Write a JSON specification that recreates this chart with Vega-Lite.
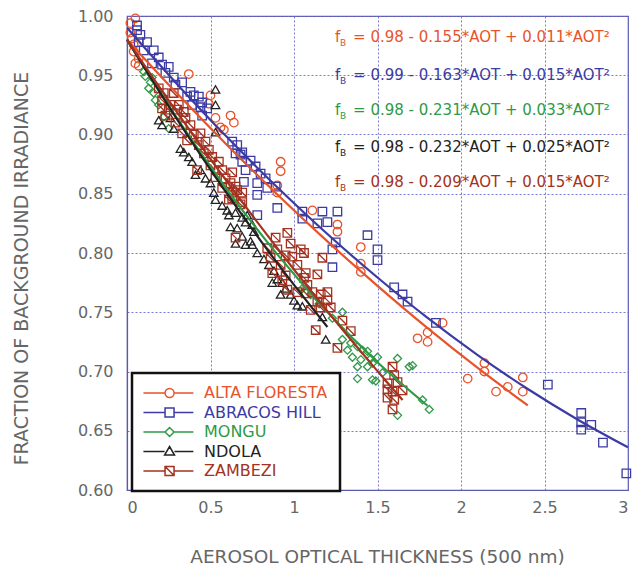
{
"$schema": "https://vega.github.io/schema/vega-lite/v6.json",
"autosize": {"type": "none"},
"width": 501,
"height": 474,
"padding": {"left": 127, "top": 16, "right": 4, "bottom": 88},
"background": "white",
"datasets": {
"pts": [
{"site":"ALTA FLORESTA","aot":0.02,"frac":0.994},{"site":"ALTA FLORESTA","aot":0.05,"frac":0.998},{"site":"ALTA FLORESTA","aot":0.02,"frac":0.986},{"site":"ALTA FLORESTA","aot":0.03,"frac":0.981},{"site":"ALTA FLORESTA","aot":0.04,"frac":0.976},{"site":"ALTA FLORESTA","aot":0.04,"frac":0.970},{"site":"ALTA FLORESTA","aot":0.07,"frac":0.964},{"site":"ALTA FLORESTA","aot":0.05,"frac":0.960},{"site":"ALTA FLORESTA","aot":0.07,"frac":0.958},{"site":"ALTA FLORESTA","aot":0.37,"frac":0.951},{"site":"ALTA FLORESTA","aot":0.50,"frac":0.933},{"site":"ALTA FLORESTA","aot":0.49,"frac":0.926},{"site":"ALTA FLORESTA","aot":0.53,"frac":0.914},{"site":"ALTA FLORESTA","aot":0.62,"frac":0.916},{"site":"ALTA FLORESTA","aot":0.64,"frac":0.910},{"site":"ALTA FLORESTA","aot":0.58,"frac":0.904},{"site":"ALTA FLORESTA","aot":0.56,"frac":0.906},{"site":"ALTA FLORESTA","aot":0.92,"frac":0.877},{"site":"ALTA FLORESTA","aot":0.92,"frac":0.869},{"site":"ALTA FLORESTA","aot":0.90,"frac":0.857},{"site":"ALTA FLORESTA","aot":0.90,"frac":0.851},{"site":"ALTA FLORESTA","aot":1.11,"frac":0.836},{"site":"ALTA FLORESTA","aot":1.26,"frac":0.824},{"site":"ALTA FLORESTA","aot":1.26,"frac":0.818},{"site":"ALTA FLORESTA","aot":1.40,"frac":0.805},{"site":"ALTA FLORESTA","aot":1.40,"frac":0.791},{"site":"ALTA FLORESTA","aot":1.40,"frac":0.784},{"site":"ALTA FLORESTA","aot":1.74,"frac":0.728},{"site":"ALTA FLORESTA","aot":1.80,"frac":0.733},{"site":"ALTA FLORESTA","aot":1.80,"frac":0.725},{"site":"ALTA FLORESTA","aot":1.89,"frac":0.741},{"site":"ALTA FLORESTA","aot":2.04,"frac":0.694},{"site":"ALTA FLORESTA","aot":2.14,"frac":0.707},{"site":"ALTA FLORESTA","aot":2.14,"frac":0.700},{"site":"ALTA FLORESTA","aot":2.21,"frac":0.683},{"site":"ALTA FLORESTA","aot":2.28,"frac":0.687},{"site":"ALTA FLORESTA","aot":2.37,"frac":0.695},{"site":"ALTA FLORESTA","aot":2.37,"frac":0.683},

{"site":"ABRACOS HILL","aot":0.06,"frac":0.992},{"site":"ABRACOS HILL","aot":0.06,"frac":0.988},{"site":"ABRACOS HILL","aot":0.08,"frac":0.984},{"site":"ABRACOS HILL","aot":0.12,"frac":0.978},{"site":"ABRACOS HILL","aot":0.07,"frac":0.978},{"site":"ABRACOS HILL","aot":0.10,"frac":0.971},{"site":"ABRACOS HILL","aot":0.16,"frac":0.971},{"site":"ABRACOS HILL","aot":0.19,"frac":0.965},{"site":"ABRACOS HILL","aot":0.15,"frac":0.960},{"site":"ABRACOS HILL","aot":0.21,"frac":0.959},{"site":"ABRACOS HILL","aot":0.25,"frac":0.957},{"site":"ABRACOS HILL","aot":0.23,"frac":0.952},{"site":"ABRACOS HILL","aot":0.28,"frac":0.948},{"site":"ABRACOS HILL","aot":0.33,"frac":0.944},{"site":"ABRACOS HILL","aot":0.29,"frac":0.942},{"site":"ABRACOS HILL","aot":0.38,"frac":0.936},{"site":"ABRACOS HILL","aot":0.36,"frac":0.932},{"site":"ABRACOS HILL","aot":0.43,"frac":0.932},{"site":"ABRACOS HILL","aot":0.39,"frac":0.925},{"site":"ABRACOS HILL","aot":0.45,"frac":0.927},{"site":"ABRACOS HILL","aot":0.40,"frac":0.933},{"site":"ABRACOS HILL","aot":0.44,"frac":0.923},{"site":"ABRACOS HILL","aot":0.45,"frac":0.916},{"site":"ABRACOS HILL","aot":0.48,"frac":0.922},{"site":"ABRACOS HILL","aot":0.63,"frac":0.894},{"site":"ABRACOS HILL","aot":0.66,"frac":0.891},{"site":"ABRACOS HILL","aot":0.65,"frac":0.884},{"site":"ABRACOS HILL","aot":0.69,"frac":0.885},{"site":"ABRACOS HILL","aot":0.69,"frac":0.877},{"site":"ABRACOS HILL","aot":0.74,"frac":0.878},{"site":"ABRACOS HILL","aot":0.77,"frac":0.873},{"site":"ABRACOS HILL","aot":0.80,"frac":0.867},{"site":"ABRACOS HILL","aot":0.83,"frac":0.863},{"site":"ABRACOS HILL","aot":0.78,"frac":0.859},{"site":"ABRACOS HILL","aot":0.84,"frac":0.855},{"site":"ABRACOS HILL","aot":0.89,"frac":0.856},{"site":"ABRACOS HILL","aot":0.78,"frac":0.849},{"site":"ABRACOS HILL","aot":0.78,"frac":0.832},{"site":"ABRACOS HILL","aot":0.68,"frac":0.883},{"site":"ABRACOS HILL","aot":0.71,"frac":0.870},{"site":"ABRACOS HILL","aot":0.70,"frac":0.860},{"site":"ABRACOS HILL","aot":0.90,"frac":0.838},{"site":"ABRACOS HILL","aot":1.05,"frac":0.835},{"site":"ABRACOS HILL","aot":1.05,"frac":0.829},{"site":"ABRACOS HILL","aot":1.17,"frac":0.835},{"site":"ABRACOS HILL","aot":1.26,"frac":0.835},{"site":"ABRACOS HILL","aot":1.14,"frac":0.825},{"site":"ABRACOS HILL","aot":1.20,"frac":0.826},{"site":"ABRACOS HILL","aot":1.25,"frac":0.809},{"site":"ABRACOS HILL","aot":1.23,"frac":0.803},{"site":"ABRACOS HILL","aot":1.23,"frac":0.788},{"site":"ABRACOS HILL","aot":1.44,"frac":0.815},{"site":"ABRACOS HILL","aot":1.50,"frac":0.803},{"site":"ABRACOS HILL","aot":1.50,"frac":0.794},{"site":"ABRACOS HILL","aot":1.60,"frac":0.771},{"site":"ABRACOS HILL","aot":1.65,"frac":0.765},{"site":"ABRACOS HILL","aot":1.68,"frac":0.759},{"site":"ABRACOS HILL","aot":1.85,"frac":0.741},{"site":"ABRACOS HILL","aot":2.52,"frac":0.689},{"site":"ABRACOS HILL","aot":2.72,"frac":0.665},{"site":"ABRACOS HILL","aot":2.72,"frac":0.657},{"site":"ABRACOS HILL","aot":2.72,"frac":0.651},{"site":"ABRACOS HILL","aot":2.78,"frac":0.655},{"site":"ABRACOS HILL","aot":2.85,"frac":0.640},{"site":"ABRACOS HILL","aot":2.99,"frac":0.614},

{"site":"MONGU","aot":0.10,"frac":0.953},{"site":"MONGU","aot":0.11,"frac":0.949},{"site":"MONGU","aot":0.14,"frac":0.944},{"site":"MONGU","aot":0.15,"frac":0.948},{"site":"MONGU","aot":0.13,"frac":0.939},{"site":"MONGU","aot":0.16,"frac":0.935},{"site":"MONGU","aot":0.17,"frac":0.929},{"site":"MONGU","aot":0.19,"frac":0.925},{"site":"MONGU","aot":0.22,"frac":0.915},{"site":"MONGU","aot":0.25,"frac":0.905},{"site":"MONGU","aot":1.05,"frac":0.770},{"site":"MONGU","aot":1.10,"frac":0.765},{"site":"MONGU","aot":1.15,"frac":0.757},{"site":"MONGU","aot":1.29,"frac":0.750},{"site":"MONGU","aot":1.23,"frac":0.745},{"site":"MONGU","aot":1.29,"frac":0.727},{"site":"MONGU","aot":1.34,"frac":0.724},{"site":"MONGU","aot":1.32,"frac":0.718},{"site":"MONGU","aot":1.38,"frac":0.721},{"site":"MONGU","aot":1.41,"frac":0.718},{"site":"MONGU","aot":1.44,"frac":0.717},{"site":"MONGU","aot":1.35,"frac":0.712},{"site":"MONGU","aot":1.40,"frac":0.710},{"site":"MONGU","aot":1.46,"frac":0.711},{"site":"MONGU","aot":1.50,"frac":0.712},{"site":"MONGU","aot":1.44,"frac":0.704},{"site":"MONGU","aot":1.38,"frac":0.704},{"site":"MONGU","aot":1.62,"frac":0.711},{"site":"MONGU","aot":1.71,"frac":0.705},{"site":"MONGU","aot":1.38,"frac":0.694},{"site":"MONGU","aot":1.47,"frac":0.693},{"site":"MONGU","aot":1.53,"frac":0.699},{"site":"MONGU","aot":1.49,"frac":0.692},{"site":"MONGU","aot":1.69,"frac":0.704},{"site":"MONGU","aot":1.77,"frac":0.676},{"site":"MONGU","aot":1.81,"frac":0.668},{"site":"MONGU","aot":1.62,"frac":0.663},{"site":"MONGU","aot":1.47,"frac":0.707},

{"site":"NDOLA","aot":0.53,"frac":0.938},{"site":"NDOLA","aot":0.53,"frac":0.925},{"site":"NDOLA","aot":0.53,"frac":0.902},{"site":"NDOLA","aot":0.32,"frac":0.888},{"site":"NDOLA","aot":0.34,"frac":0.885},{"site":"NDOLA","aot":0.37,"frac":0.881},{"site":"NDOLA","aot":0.39,"frac":0.877},{"site":"NDOLA","aot":0.44,"frac":0.870},{"site":"NDOLA","aot":0.41,"frac":0.866},{"site":"NDOLA","aot":0.47,"frac":0.863},{"site":"NDOLA","aot":0.50,"frac":0.859},{"site":"NDOLA","aot":0.52,"frac":0.851},{"site":"NDOLA","aot":0.53,"frac":0.845},{"site":"NDOLA","aot":0.57,"frac":0.840},{"site":"NDOLA","aot":0.60,"frac":0.836},{"site":"NDOLA","aot":0.61,"frac":0.832},{"site":"NDOLA","aot":0.21,"frac":0.908},{"site":"NDOLA","aot":0.26,"frac":0.914},{"site":"NDOLA","aot":0.28,"frac":0.905},{"site":"NDOLA","aot":0.19,"frac":0.912},{"site":"NDOLA","aot":0.65,"frac":0.834},{"site":"NDOLA","aot":0.69,"frac":0.830},{"site":"NDOLA","aot":0.72,"frac":0.832},{"site":"NDOLA","aot":0.71,"frac":0.826},{"site":"NDOLA","aot":0.66,"frac":0.821},{"site":"NDOLA","aot":0.75,"frac":0.824},{"site":"NDOLA","aot":0.76,"frac":0.818},{"site":"NDOLA","aot":0.69,"frac":0.814},{"site":"NDOLA","aot":0.65,"frac":0.808},{"site":"NDOLA","aot":0.71,"frac":0.807},{"site":"NDOLA","aot":0.75,"frac":0.807},{"site":"NDOLA","aot":0.62,"frac":0.822},{"site":"NDOLA","aot":0.74,"frac":0.810},{"site":"NDOLA","aot":0.78,"frac":0.800},{"site":"NDOLA","aot":0.82,"frac":0.795},{"site":"NDOLA","aot":0.85,"frac":0.790},{"site":"NDOLA","aot":0.88,"frac":0.785},{"site":"NDOLA","aot":0.90,"frac":0.778},{"site":"NDOLA","aot":0.93,"frac":0.775},{"site":"NDOLA","aot":0.95,"frac":0.770},{"site":"NDOLA","aot":0.98,"frac":0.765},{"site":"NDOLA","aot":1.00,"frac":0.760},{"site":"NDOLA","aot":1.05,"frac":0.755},{"site":"NDOLA","aot":0.87,"frac":0.775},{"site":"NDOLA","aot":0.92,"frac":0.765},{"site":"NDOLA","aot":1.02,"frac":0.756},{"site":"NDOLA","aot":1.17,"frac":0.746},{"site":"NDOLA","aot":1.19,"frac":0.727},

{"site":"ZAMBEZI","aot":0.19,"frac":0.939},{"site":"ZAMBEZI","aot":0.21,"frac":0.929},{"site":"ZAMBEZI","aot":0.28,"frac":0.935},{"site":"ZAMBEZI","aot":0.25,"frac":0.921},{"site":"ZAMBEZI","aot":0.31,"frac":0.925},{"site":"ZAMBEZI","aot":0.34,"frac":0.919},{"site":"ZAMBEZI","aot":0.22,"frac":0.935},{"site":"ZAMBEZI","aot":0.26,"frac":0.925},{"site":"ZAMBEZI","aot":0.21,"frac":0.922},{"site":"ZAMBEZI","aot":0.30,"frac":0.921},{"site":"ZAMBEZI","aot":0.23,"frac":0.916},{"site":"ZAMBEZI","aot":0.35,"frac":0.914},{"site":"ZAMBEZI","aot":0.29,"frac":0.910},{"site":"ZAMBEZI","aot":0.38,"frac":0.908},{"site":"ZAMBEZI","aot":0.33,"frac":0.901},{"site":"ZAMBEZI","aot":0.40,"frac":0.900},{"site":"ZAMBEZI","aot":0.36,"frac":0.895},{"site":"ZAMBEZI","aot":0.44,"frac":0.901},{"site":"ZAMBEZI","aot":0.47,"frac":0.894},{"site":"ZAMBEZI","aot":0.43,"frac":0.891},{"site":"ZAMBEZI","aot":0.49,"frac":0.887},{"site":"ZAMBEZI","aot":0.46,"frac":0.884},{"site":"ZAMBEZI","aot":0.51,"frac":0.881},{"site":"ZAMBEZI","aot":0.55,"frac":0.877},{"site":"ZAMBEZI","aot":0.50,"frac":0.874},{"site":"ZAMBEZI","aot":0.57,"frac":0.870},{"site":"ZAMBEZI","aot":0.53,"frac":0.864},{"site":"ZAMBEZI","aot":0.59,"frac":0.863},{"site":"ZAMBEZI","aot":0.62,"frac":0.859},{"site":"ZAMBEZI","aot":0.57,"frac":0.855},{"site":"ZAMBEZI","aot":0.63,"frac":0.851},{"site":"ZAMBEZI","aot":0.66,"frac":0.853},{"site":"ZAMBEZI","aot":0.61,"frac":0.845},{"site":"ZAMBEZI","aot":0.68,"frac":0.841},{"site":"ZAMBEZI","aot":0.42,"frac":0.870},{"site":"ZAMBEZI","aot":0.63,"frac":0.868},{"site":"ZAMBEZI","aot":0.69,"frac":0.851},{"site":"ZAMBEZI","aot":0.65,"frac":0.856},{"site":"ZAMBEZI","aot":0.63,"frac":0.846},{"site":"ZAMBEZI","aot":0.69,"frac":0.843},{"site":"ZAMBEZI","aot":0.65,"frac":0.813},{"site":"ZAMBEZI","aot":0.89,"frac":0.813},{"site":"ZAMBEZI","aot":0.96,"frac":0.817},{"site":"ZAMBEZI","aot":0.98,"frac":0.808},{"site":"ZAMBEZI","aot":0.84,"frac":0.804},{"site":"ZAMBEZI","aot":0.90,"frac":0.803},{"site":"ZAMBEZI","aot":0.95,"frac":0.798},{"site":"ZAMBEZI","aot":0.99,"frac":0.797},{"site":"ZAMBEZI","aot":0.86,"frac":0.796},{"site":"ZAMBEZI","aot":0.92,"frac":0.790},{"site":"ZAMBEZI","aot":1.02,"frac":0.790},{"site":"ZAMBEZI","aot":0.87,"frac":0.783},{"site":"ZAMBEZI","aot":0.95,"frac":0.781},{"site":"ZAMBEZI","aot":1.07,"frac":0.783},{"site":"ZAMBEZI","aot":1.04,"frac":0.803},{"site":"ZAMBEZI","aot":1.17,"frac":0.796},{"site":"ZAMBEZI","aot":1.06,"frac":0.800},{"site":"ZAMBEZI","aot":0.93,"frac":0.777},{"site":"ZAMBEZI","aot":1.06,"frac":0.779},{"site":"ZAMBEZI","aot":1.08,"frac":0.773},{"site":"ZAMBEZI","aot":1.14,"frac":0.782},{"site":"ZAMBEZI","aot":0.96,"frac":0.769},{"site":"ZAMBEZI","aot":1.02,"frac":0.767},{"site":"ZAMBEZI","aot":1.07,"frac":0.766},{"site":"ZAMBEZI","aot":1.11,"frac":0.767},{"site":"ZAMBEZI","aot":1.16,"frac":0.765},{"site":"ZAMBEZI","aot":1.20,"frac":0.767},{"site":"ZAMBEZI","aot":1.14,"frac":0.759},{"site":"ZAMBEZI","aot":1.20,"frac":0.760},{"site":"ZAMBEZI","aot":1.10,"frac":0.752},{"site":"ZAMBEZI","aot":1.16,"frac":0.754},{"site":"ZAMBEZI","aot":1.22,"frac":0.754},{"site":"ZAMBEZI","aot":1.29,"frac":0.743},{"site":"ZAMBEZI","aot":1.34,"frac":0.734},{"site":"ZAMBEZI","aot":1.13,"frac":0.735},{"site":"ZAMBEZI","aot":1.26,"frac":0.720},{"site":"ZAMBEZI","aot":1.59,"frac":0.704},{"site":"ZAMBEZI","aot":1.60,"frac":0.697},{"site":"ZAMBEZI","aot":1.56,"frac":0.690},{"site":"ZAMBEZI","aot":1.62,"frac":0.691},{"site":"ZAMBEZI","aot":1.65,"frac":0.684},{"site":"ZAMBEZI","aot":1.59,"frac":0.683},{"site":"ZAMBEZI","aot":1.56,"frac":0.678},{"site":"ZAMBEZI","aot":1.60,"frac":0.676},{"site":"ZAMBEZI","aot":1.56,"frac":0.685},{"site":"ZAMBEZI","aot":1.59,"frac":0.668}
],
"fit": [
{"site":"ALTA FLORESTA","aot":0.0,"frac":0.980},{"site":"ALTA FLORESTA","aot":0.3,"frac":0.9345},{"site":"ALTA FLORESTA","aot":0.6,"frac":0.891},{"site":"ALTA FLORESTA","aot":0.9,"frac":0.8494},{"site":"ALTA FLORESTA","aot":1.2,"frac":0.8098},{"site":"ALTA FLORESTA","aot":1.5,"frac":0.7723},{"site":"ALTA FLORESTA","aot":1.8,"frac":0.7366},{"site":"ALTA FLORESTA","aot":2.1,"frac":0.703},{"site":"ALTA FLORESTA","aot":2.4,"frac":0.6714},
{"site":"ABRACOS HILL","aot":0.0,"frac":0.990},{"site":"ABRACOS HILL","aot":0.3,"frac":0.9425},{"site":"ABRACOS HILL","aot":0.6,"frac":0.8976},{"site":"ABRACOS HILL","aot":0.9,"frac":0.8555},{"site":"ABRACOS HILL","aot":1.2,"frac":0.816},{"site":"ABRACOS HILL","aot":1.5,"frac":0.7793},{"site":"ABRACOS HILL","aot":1.8,"frac":0.7452},{"site":"ABRACOS HILL","aot":2.1,"frac":0.7139},{"site":"ABRACOS HILL","aot":2.4,"frac":0.6852},{"site":"ABRACOS HILL","aot":2.7,"frac":0.6593},{"site":"ABRACOS HILL","aot":3.0,"frac":0.636},
{"site":"MONGU","aot":0.0,"frac":0.980},{"site":"MONGU","aot":0.3,"frac":0.9137},{"site":"MONGU","aot":0.6,"frac":0.8533},{"site":"MONGU","aot":0.9,"frac":0.7988},{"site":"MONGU","aot":1.2,"frac":0.7503},{"site":"MONGU","aot":1.5,"frac":0.7078},{"site":"MONGU","aot":1.8,"frac":0.6711},
{"site":"NDOLA","aot":0.0,"frac":0.980},{"site":"NDOLA","aot":0.3,"frac":0.9127},{"site":"NDOLA","aot":0.6,"frac":0.8498},{"site":"NDOLA","aot":0.9,"frac":0.7915},{"site":"NDOLA","aot":1.2,"frac":0.7376},
{"site":"ZAMBEZI","aot":0.0,"frac":0.980},{"site":"ZAMBEZI","aot":0.3,"frac":0.9187},{"site":"ZAMBEZI","aot":0.6,"frac":0.860},{"site":"ZAMBEZI","aot":0.9,"frac":0.8041},{"site":"ZAMBEZI","aot":1.2,"frac":0.7508},{"site":"ZAMBEZI","aot":1.5,"frac":0.7003},{"site":"ZAMBEZI","aot":1.65,"frac":0.676}
],
"eqs": [
{"site":"ALTA FLORESTA","aot":1.246,"frac":0.982,"f":"f","b":"B","eq":"= 0.98 - 0.155*AOT + 0.011*AOT²"},
{"site":"ABRACOS HILL","aot":1.246,"frac":0.950,"f":"f","b":"B","eq":"= 0.99 - 0.163*AOT + 0.015*AOT²"},
{"site":"MONGU","aot":1.246,"frac":0.9207,"f":"f","b":"B","eq":"= 0.98 - 0.231*AOT + 0.033*AOT²"},
{"site":"NDOLA","aot":1.246,"frac":0.8895,"f":"f","b":"B","eq":"= 0.98 - 0.232*AOT + 0.025*AOT²"},
{"site":"ZAMBEZI","aot":1.246,"frac":0.860,"f":"f","b":"B","eq":"= 0.98 - 0.209*AOT + 0.015*AOT²"}
]
},
"encoding": {
"x": {"field": "aot", "type": "quantitative", "scale": {"domain": [0, 3], "nice": false},
"axis": {"values": [0, 0.5, 1, 1.5, 2, 2.5, 3], "format": "~g", "title": "AEROSOL OPTICAL THICKNESS (500 nm)", "titleFontSize": 18.5, "titleX": 250, "titleY": 57, "labelPadding": 9}},
"y": {"field": "frac", "type": "quantitative", "scale": {"domain": [0.6, 1.0], "nice": false, "zero": false},
"axis": {"values": [0.6, 0.65, 0.7, 0.75, 0.8, 0.85, 0.9, 0.95, 1.0], "format": ".2f", "title": "FRACTION OF BACKGROUND IRRADIANCE", "titleFontSize": 19, "titleX": -100, "titleY": 252, "titleAngle": -90, "titleBaseline": "alphabetic", "labelPadding": 14}}
},
"layer": [
{"data": {"name": "pts"},
"encoding": {
"stroke": {"field": "site", "type": "nominal",
"scale": {"domain": ["ALTA FLORESTA", "ABRACOS HILL", "MONGU", "NDOLA", "ZAMBEZI"], "range": ["#e8532b", "#3b3ba3", "#2f9a46", "#222222", "#a33220"]},
"legend": {"title": null, "orient": "none", "legendX": 5, "legendY": 357, "padding": 12, "fillColor": "white", "strokeColor": "#111",
"symbolSize": 81, "symbolStrokeWidth": 1.5, "symbolFillColor": "transparent", "labelOffset": 44, "labelFontSize": 16, "labelFont": "DejaVu Sans", "rowPadding": 3.5,
"labelColor": {"expr": "scale('stroke', datum.value)"},
"symbolType": {"expr": "datum.value === 'ALTA FLORESTA' ? 'M-1.9,0H2.9M4.9,0H9.2M4.9,0A1,1 0 1,1 2.9,0A1,1 0 1,1 4.9,0A1,1 0 1,0 2.9,0A1,1 0 1,0 4.9,0' : datum.value === 'ABRACOS HILL' ? 'M-1.9,0H2.9M4.9,0H9.2M2.9,-1H4.9V1H2.9ZM2.9,-1V1H4.9V-1Z' : datum.value === 'MONGU' ? 'M-1.9,0H2.9M4.9,0H9.2M3.9,-1L4.9,0L3.9,1L2.9,0ZM3.9,-1L2.9,0L3.9,1L4.9,0Z' : datum.value === 'NDOLA' ? 'M-1.9,0H2.8M5,0H9.2M3.9,-1.1L5,0.8H2.8ZM3.9,-1.1L2.8,0.8H5Z' : 'M-1.9,0H2.9M4.9,0H9.2M2.9,-1H4.9V1H2.9ZM2.9,-1V1H4.9V-1ZM2.9,-1L4.9,1'"}
}}
},
"layer": [
{"transform": [{"filter": {"field": "site", "equal": "ALTA FLORESTA"}}], "mark": {"type": "point", "shape": "circle", "filled": false, "fill": "transparent", "size": 72, "strokeWidth": 1.3, "opacity": 1}},
{"transform": [{"filter": {"field": "site", "equal": "ABRACOS HILL"}}], "mark": {"type": "point", "shape": "square", "filled": false, "fill": "transparent", "size": 72, "strokeWidth": 1.3, "opacity": 1}},
{"transform": [{"filter": {"field": "site", "equal": "MONGU"}}], "mark": {"type": "point", "shape": "diamond", "filled": false, "fill": "transparent", "size": 64, "strokeWidth": 1.3, "opacity": 1}},
{"transform": [{"filter": {"field": "site", "equal": "NDOLA"}}], "mark": {"type": "point", "shape": "triangle-up", "filled": false, "fill": "transparent", "size": 72, "strokeWidth": 1.3, "opacity": 1}},
{"transform": [{"filter": {"field": "site", "equal": "ZAMBEZI"}}], "mark": {"type": "point", "shape": "M-1,-1H1V1H-1ZM-1,-1L1,1", "filled": false, "fill": "transparent", "size": 72, "strokeWidth": 1.3, "opacity": 1}}
]
},
{"data": {"name": "fit"},
"mark": {"type": "line", "strokeWidth": 2.2, "interpolate": "monotone"},
"encoding": {"color": {"field": "site", "type": "nominal", "legend": null,
"scale": {"domain": ["ALTA FLORESTA", "ABRACOS HILL", "MONGU", "NDOLA", "ZAMBEZI"], "range": ["#e8532b", "#3b3ba3", "#2f9a46", "#222222", "#a33220"]}}}
},
{"data": {"name": "eqs"},
"mark": {"type": "text", "align": "left", "baseline": "middle", "fontSize": 15, "font": "DejaVu Sans"},
"encoding": {"text": {"field": "f"}, "fill": {"field": "site", "type": "nominal", "legend": null,
"scale": {"domain": ["ALTA FLORESTA", "ABRACOS HILL", "MONGU", "NDOLA", "ZAMBEZI"], "range": ["#e8532b", "#3b3ba3", "#2f9a46", "#222222", "#a33220"]}}}
},
{"data": {"name": "eqs"},
"mark": {"type": "text", "align": "left", "baseline": "middle", "fontSize": 9, "font": "DejaVu Sans", "dx": 5, "dy": 6},
"encoding": {"text": {"field": "b"}, "fill": {"field": "site", "type": "nominal", "legend": null}}
},
{"data": {"name": "eqs"},
"mark": {"type": "text", "align": "left", "baseline": "middle", "fontSize": 15, "font": "DejaVu Sans", "dx": 18},
"encoding": {"text": {"field": "eq"}, "fill": {"field": "site", "type": "nominal", "legend": null}}
}
],
"config": {
"view": {"stroke": "#5a5aad", "strokeWidth": 1.2},
"font": "DejaVu Sans",
"legend": {"strokeWidth": 2.5},
"axis": {"domainColor": "#5a5aad", "domainWidth": 1.2, "gridColor": "#6a6ac8", "gridDash": [2, 2], "gridWidth": 1, "gridOpacity": 0.9, "ticks": false,
"labelColor": "#666666", "titleColor": "#666666", "labelFont": "DejaVu Sans", "titleFont": "DejaVu Sans", "titleFontWeight": "normal", "labelFontSize": 16}
}
}
